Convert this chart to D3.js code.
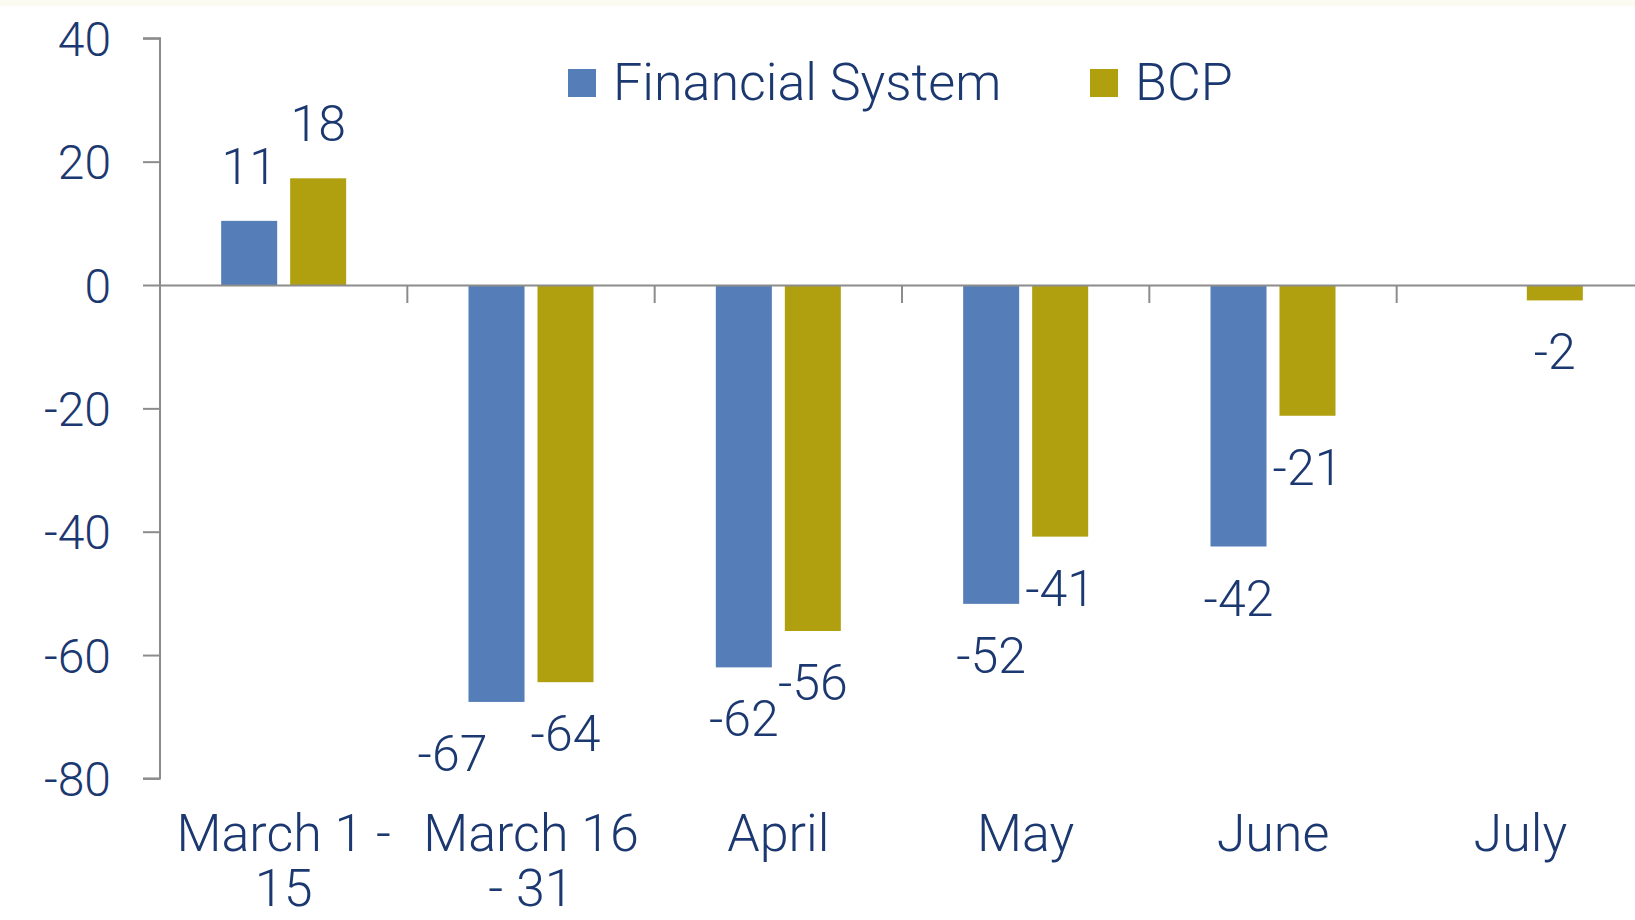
<!DOCTYPE html>
<html>
<head>
<meta charset="utf-8">
<script src="https://cdn.jsdelivr.net/npm/d3@7"></script>
<style>
  html, body { margin: 0; padding: 0; background: #fff; }
  svg { display: block; }
  text { font-family: Roboto, "Liberation Sans", sans-serif; font-weight: 300; fill: #1c3870; }
</style>
</head>
<body>
<svg id="chart" width="1635" height="920"></svg>
<script>
// chart values (bar lengths as drawn, labels as printed)
const categories = [['March 1 -', '15'], ['March 16', '- 31'], ['April'], ['May'], ['June'], ['July']];
const financialSystem = [10.4, -67.6, -62.0, -51.7, -42.4, null];
const financialSystemLabels = ['11', '-67', '-62', '-52', '-42', ''];
const bcp = [17.3, -64.4, -56.1, -40.8, -21.2, -2.5];
const bcpLabels = ['18', '-64', '-56', '-41', '-21', '-2'];
const seriesNames = ['Financial System', 'BCP'];
const yTicks = [40, 20, 0, -20, -40, -60, -80];

const colors = { 'Financial System': '#557eb8', 'BCP': '#b0a010' };
const axisColor = '#8c8c8c';

const svg = d3.select('#chart');
const W = 1635, H = 920;

// faint strip along the top edge
svg.append('rect').attr('x', 0).attr('y', 0).attr('width', W).attr('height', 6).attr('fill', '#fbfbf1');

const catKeys = categories.map(c => c.join(' '));
const x0 = d3.scaleBand().domain(catKeys).range([160, 1644]);
const half = 62.5;
const x1 = d3.scaleBand().domain(seriesNames)
  .range([x0.bandwidth() / 2 - half, x0.bandwidth() / 2 + half])
  .paddingInner(0.188);
const y = d3.scaleLinear().domain([-80, 40]).range([778.4, 38.3]);

// bars
const rows = [];
catKeys.forEach((c, i) => {
  rows.push({ cat: c, series: 'Financial System', value: financialSystem[i], label: financialSystemLabels[i] });
  rows.push({ cat: c, series: 'BCP', value: bcp[i], label: bcpLabels[i] });
});
const data = rows.filter(d => d.value !== null);

svg.append('g').selectAll('rect')
  .data(data)
  .join('rect')
  .attr('x', d => x0(d.cat) + x1(d.series))
  .attr('width', x1.bandwidth())
  .attr('y', d => y(Math.max(0, d.value)))
  .attr('height', d => Math.abs(y(d.value) - y(0)))
  .attr('fill', d => colors[d.series]);

// y axis
const yAxis = svg.append('g').attr('transform', `translate(${x0.range()[0]},0)`)
  .call(d3.axisLeft(y).tickValues(yTicks).tickSize(17).tickPadding(32));
yAxis.select('.domain').attr('stroke', axisColor).attr('stroke-width', 2)
  .attr('d', `M-17,${y(40)}H0V${y(-80)}H-17`);
yAxis.selectAll('.tick line').attr('stroke', axisColor).attr('stroke-width', 2);
yAxis.selectAll('.tick text')
  .attr('font-size', 48).attr('font-family', null).attr('fill', null)
  .attr('dy', '0.36em')
  .text(d => String(d));

// zero line with category ticks
const xAxis = svg.append('g').attr('transform', `translate(0,${y(0)})`)
  .call(d3.axisBottom(x0).tickSize(0).tickFormat(''));
xAxis.select('.domain').attr('stroke', axisColor).attr('stroke-width', 2);
xAxis.selectAll('.tick').remove();
xAxis.selectAll('line.cat-tick')
  .data(catKeys.slice(1))
  .join('line')
  .attr('class', 'cat-tick')
  .attr('x1', d => x0(d)).attr('x2', d => x0(d))
  .attr('y1', 0).attr('y2', 18)
  .attr('stroke', axisColor).attr('stroke-width', 2);

// category labels
const catLabels = svg.append('g').selectAll('text')
  .data(categories)
  .join('text')
  .attr('text-anchor', 'middle')
  .attr('font-size', 52)
  .attr('y', 851);
catLabels.selectAll('tspan')
  .data((d, i) => d.map(line => ({ line, cx: x0(catKeys[i]) + x0.bandwidth() / 2 })))
  .join('tspan')
  .attr('x', d => d.cx)
  .attr('dy', (d, j) => j === 0 ? 0 : 55)
  .text(d => d.line);

// data labels
svg.append('g').selectAll('text')
  .data(data)
  .join('text')
  .attr('text-anchor', 'middle')
  .attr('font-size', 50)
  .attr('x', d => {
    let cx = x0(d.cat) + x1(d.series) + x1.bandwidth() / 2;
    // keep the blue label clear of its neighbour when both bars end close together
    if (d.series === 'Financial System') {
      const other = data.find(o => o.cat === d.cat && o.series === 'BCP');
      if (other && d.value < 0 && Math.abs(y(d.value) - y(other.value)) < 25) cx -= 44;
    }
    return cx;
  })
  .attr('y', d => d.value >= 0 ? y(d.value) - 37 : y(d.value) + 69)
  .text(d => d.label);

// legend
const legend = svg.append('g');
const legendItems = [
  { name: 'Financial System', x: 568 },
  { name: 'BCP', x: 1090 }
];
legendItems.forEach(it => {
  legend.append('rect').attr('x', it.x).attr('y', 69).attr('width', 28).attr('height', 28)
    .attr('fill', colors[it.name]);
  legend.append('text').attr('x', it.x + 45).attr('y', 100).attr('font-size', 52).text(it.name);
});
</script>
</body>
</html>
